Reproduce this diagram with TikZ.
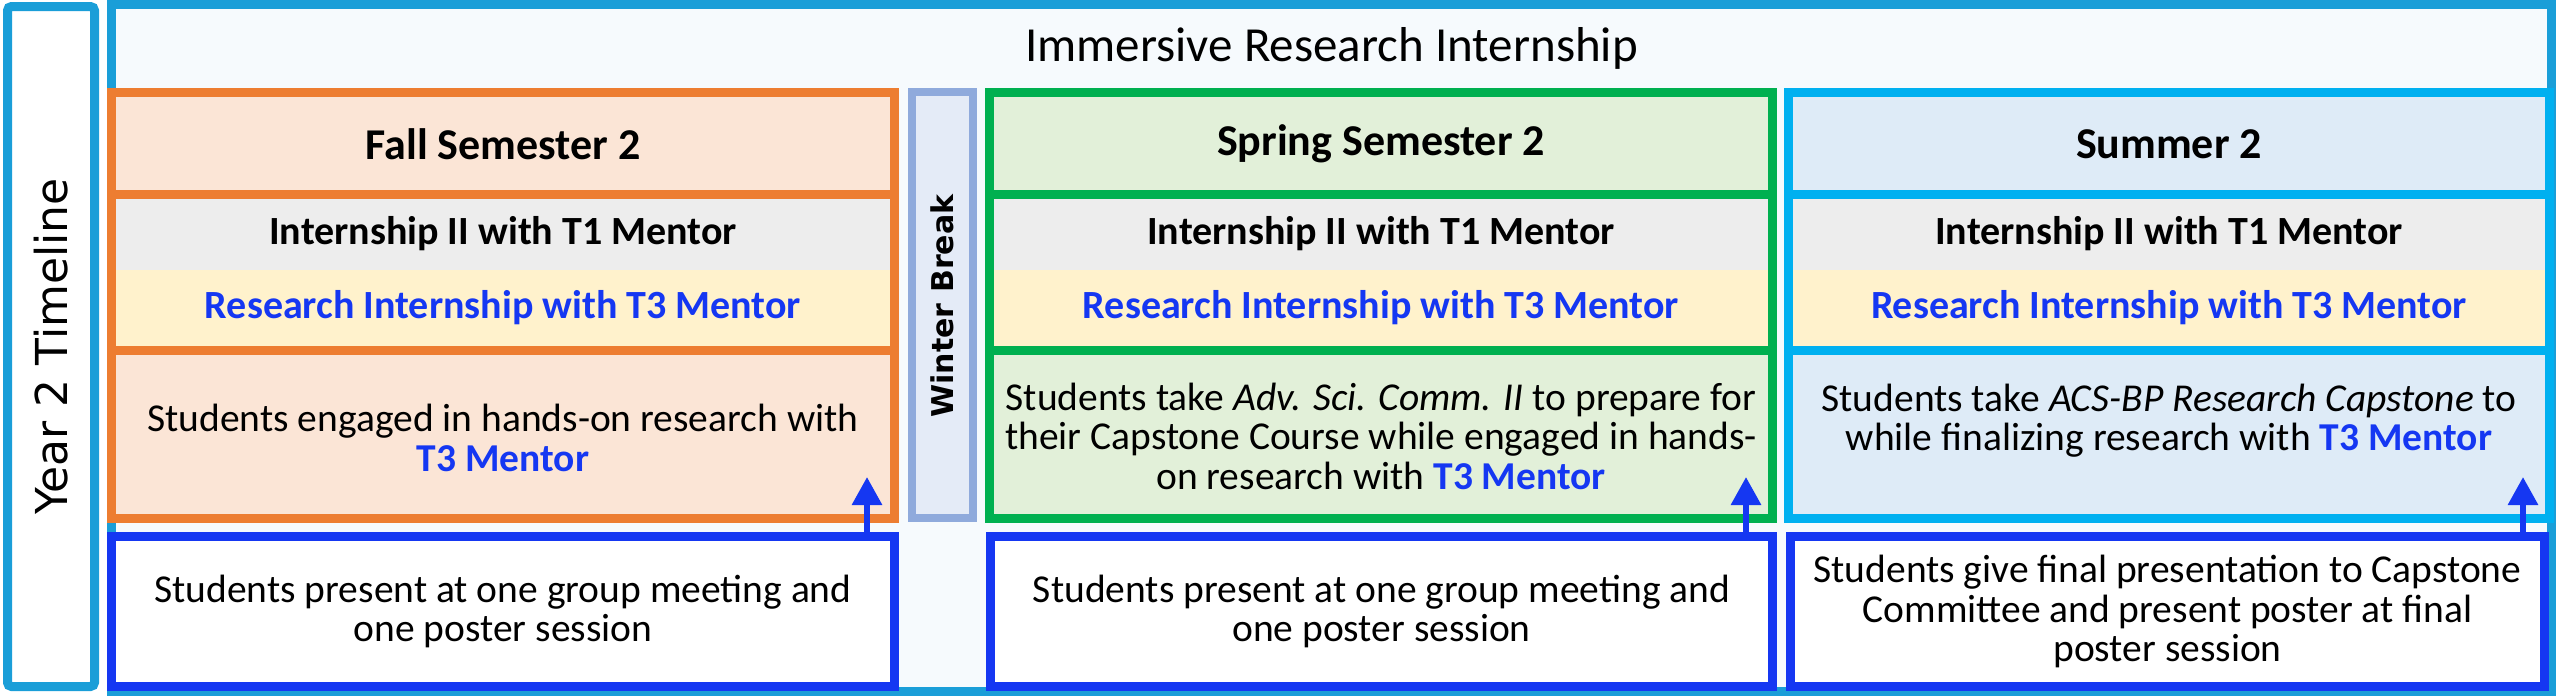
\documentclass[tikz,border=0pt]{standalone}
\usepackage{fontspec}
\setmainfont{Carlito}
\newfontfamily\dejavu{DejaVu Sans}
\usetikzlibrary{arrows.meta}
\definecolor{cyanB}{HTML}{1A9ED8}
\definecolor{bgB}{HTML}{F6FAFD}
\definecolor{orangeB}{HTML}{ED7D31}
\definecolor{orangeF}{HTML}{FBE5D6}
\definecolor{greenB}{HTML}{00B050}
\definecolor{greenF}{HTML}{E2F0D9}
\definecolor{skyB}{HTML}{00B0F0}
\definecolor{skyF}{HTML}{DEEBF7}
\definecolor{greyF}{HTML}{EDEDED}
\definecolor{yellowF}{HTML}{FFF2CC}
\definecolor{winB}{HTML}{8FAADC}
\definecolor{winF}{HTML}{E4EBF7}
\definecolor{myblue}{HTML}{1537F2}
\newcommand\tmentor{{\bfseries\color{myblue}T3 Mentor}}
\newcommand\semcol[6]{%
  \node[fill=#5, minimum width=#3, minimum height=426] (#1) at (#2,305.5) {};
  \node[hdr] (#1H) at (#2,144) {#6};
  \node[rowbox, fill=greyF, minimum width=#3-9, minimum height=72] (#1T1) at (#2,234) {Internship II with T1 Mentor};
  \node[rowbox, fill=yellowF, minimum width=#3-9, minimum height=76, text=myblue] (#1T3) at (#2,308) {Research Internship with T3 Mentor};
  \draw[line width=9, draw=#4] (#1.west |- 0,194) -- (#1.east |- 0,194);
  \draw[line width=9, draw=#4] (#1.west |- 0,350.5) -- (#1.east |- 0,350.5);
  \draw[line width=9, draw=#4] (#1.north west) rectangle (#1.south east);
}
\begin{document}
\begin{tikzpicture}[x=1pt,y=-1pt,
  every node/.style={inner sep=0pt, outer sep=0pt},
  hdr/.style={font=\fontsize{44}{50}\selectfont\bfseries},
  rowbox/.style={font=\fontsize{40}{44}\selectfont\bfseries},
  desc/.style={align=center, font=\fontsize{39.5}{39.5}\selectfont},
  bluebox/.style={draw=myblue, fill=white, line width=9, align=center, minimum height=150, font=\fontsize{39.5}{39.5}\selectfont},
  arr/.style={draw=myblue, line width=6, -{Triangle[width=29pt,length=28pt]}}]
\useasboundingbox (0,0) rectangle (2560,696);
% outer frame
\node[draw=cyanB, fill=bgB, line width=9, minimum width=2440, minimum height=687] (irI) at (1331.5,348) {};
\node[font=\fontsize{49}{55}\selectfont] (title) at (1331.5,48) {Immersive Research Internship};
% year box
\node[draw=cyanB, fill=white, line width=9, rounded corners=4, minimum width=87, minimum height=680] (yr) at (51,346.5) {};
\node[rotate=90, font=\dejavu\fontsize{44}{50}\selectfont] (yrT) at (51,346.5) {Year 2 Timeline};
% columns
\semcol{fall}{503}{783}{orangeB}{orangeF}{Fall Semester 2}
\semcol{spring}{1381}{783}{greenB}{greenF}{Spring Semester 2}
\semcol{summer}{2169}{761}{skyB}{skyF}{Summer 2}
% winter break
\node[draw=winB, fill=winF, line width=8, minimum width=61, minimum height=426] (winter) at (942.5,305) {};
\node[rotate=90, font=\dejavu\bfseries\fontsize{30}{36}\selectfont] (winterT) at (942.5,306) {Winter Break};
% descriptions
\node[desc] (fallD) at (503,438) {Students engaged in hands-on research with\\\tmentor};
\node[desc] (springD) at (1381,436) {Students take \textit{Adv. Sci. Comm. II} to prepare for\\their Capstone Course while engaged in hands-\\on research with \tmentor};
\node[desc, anchor=north] (summerD) at (2169,384) {Students take \textit{ACS-BP Research Capstone} to\\while finalizing research with \tmentor};
% presentation boxes
\node[bluebox, minimum width=783] (fallP) at (503,611.5) {Students present at one group meeting and\\one poster session};
\node[bluebox, minimum width=782] (springP) at (1381.5,611.5) {Students present at one group meeting and\\one poster session};
\node[bluebox, minimum width=754] (summerP) at (2167.5,611.5) {Students give final presentation to Capstone\\Committee and present poster at final\\poster session};
% arrows
\coordinate (fallTip) at (867,477);
\coordinate (springTip) at (1746,477);
\coordinate (summerTip) at (2523,477);
\draw[arr] (fallP.north -| fallTip) -- (fallTip);
\draw[arr] (springP.north -| springTip) -- (springTip);
\draw[arr] (summerP.north -| summerTip) -- (summerTip);
\end{tikzpicture}
\end{document}
